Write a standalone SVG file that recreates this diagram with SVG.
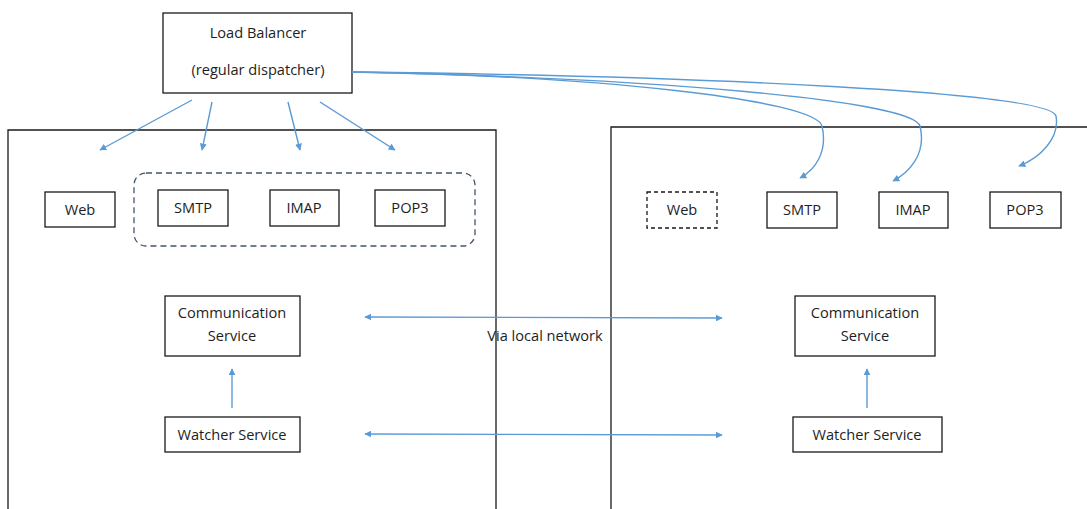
<svg xmlns="http://www.w3.org/2000/svg" width="1087" height="509" viewBox="0 0 1087 509">
<style>
.box{fill:#fff;stroke:#1a1a1a;stroke-width:1.3}
.dbox{fill:#fff;stroke:#1a1a1a;stroke-width:1.3;stroke-dasharray:4 3}
.grp{fill:none;stroke:#44546a;stroke-width:1.3;stroke-dasharray:6 4}
.cont{fill:none;stroke:#1a1a1a;stroke-width:1.3}
.t{font-family:"Open Sans","Liberation Sans",sans-serif;font-size:14.6px;fill:#1e1e1e;text-anchor:middle}
.c{fill:none;stroke:#5b9bd5;stroke-width:1.4}
</style>
<defs>
<marker id="ah" viewBox="0 0 10 10" refX="9" refY="5" markerWidth="7" markerHeight="7" orient="auto-start-reverse" markerUnits="userSpaceOnUse">
<path d="M0,0 L10,5 L0,10 z" fill="#5b9bd5"/>
</marker>
</defs>
<rect width="1087" height="509" fill="#fff"/>
<g id="containers">
<path class="cont" d="M8,509 V130 H496 V509"/>
<path class="cont" d="M611,509 V127 H1087"/>
</g>
<g id="load-balancer">
<rect class="box" x="163" y="13" width="189" height="80"/>
<text class="t" x="258" y="38">Load Balancer</text>
<text class="t" x="258" y="75">(regular dispatcher)</text>
</g>
<g id="left-group"><rect class="grp" x="134" y="173" width="341" height="73" rx="12"/></g>
<g id="left-web"><rect class="box" x="45" y="192" width="70" height="35"/><text class="t" x="80" y="215">Web</text></g>
<g id="left-smtp"><rect class="box" x="158" y="190" width="70" height="36"/><text class="t" x="193" y="213">SMTP</text></g>
<g id="left-imap"><rect class="box" x="270" y="190" width="69" height="36"/><text class="t" x="304" y="213">IMAP</text></g>
<g id="left-pop3"><rect class="box" x="375" y="190" width="70" height="36"/><text class="t" x="410" y="213">POP3</text></g>
<g id="right-web"><rect class="dbox" x="647" y="192" width="70" height="36"/><text class="t" x="682" y="215">Web</text></g>
<g id="right-smtp"><rect class="box" x="767" y="192" width="70" height="36"/><text class="t" x="802" y="215">SMTP</text></g>
<g id="right-imap"><rect class="box" x="879" y="192" width="69" height="36"/><text class="t" x="913" y="215">IMAP</text></g>
<g id="right-pop3"><rect class="box" x="990" y="192" width="71" height="36"/><text class="t" x="1025" y="215">POP3</text></g>
<g id="left-comm"><rect class="box" x="165" y="296" width="135" height="60"/><text class="t" x="232" y="318">Communication</text><text class="t" x="232" y="341">Service</text></g>
<g id="left-watcher"><rect class="box" x="165" y="417" width="135" height="35"/><text class="t" x="232" y="440">Watcher Service</text></g>
<g id="right-comm"><rect class="box" x="795" y="296" width="140" height="60"/><text class="t" x="865" y="318">Communication</text><text class="t" x="865" y="341">Service</text></g>
<g id="right-watcher"><rect class="box" x="793" y="417" width="149" height="35"/><text class="t" x="867" y="440">Watcher Service</text></g>
<g id="label"><text class="t" x="545" y="341">Via local network</text></g>
<g id="connectors">
<line class="c" x1="192" y1="100" x2="100" y2="150" marker-end="url(#ah)"/>
<line class="c" x1="212" y1="102" x2="202" y2="150" marker-end="url(#ah)"/>
<line class="c" x1="288" y1="102" x2="300" y2="150" marker-end="url(#ah)"/>
<line class="c" x1="320" y1="102" x2="395" y2="150" marker-end="url(#ah)"/>
<path class="c" d="M352,72 C600,76 815,100 822,126 C828,152 815,170 800,178" marker-end="url(#ah)"/>
<path class="c" d="M352,72 C650,78 912,100 920,126 C927,155 908,173 893,181" marker-end="url(#ah)"/>
<path class="c" d="M352,72 C700,76 1050,92 1056,116 C1060,138 1040,158 1019,166" marker-end="url(#ah)"/>
<line class="c" x1="232" y1="408" x2="232" y2="369" marker-end="url(#ah)"/>
<line class="c" x1="867" y1="408" x2="867" y2="369" marker-end="url(#ah)"/>
<line class="c" x1="365" y1="317" x2="722" y2="318" marker-start="url(#ah)" marker-end="url(#ah)"/>
<line class="c" x1="365" y1="434" x2="722" y2="435" marker-start="url(#ah)" marker-end="url(#ah)"/>
</g>
</svg>
